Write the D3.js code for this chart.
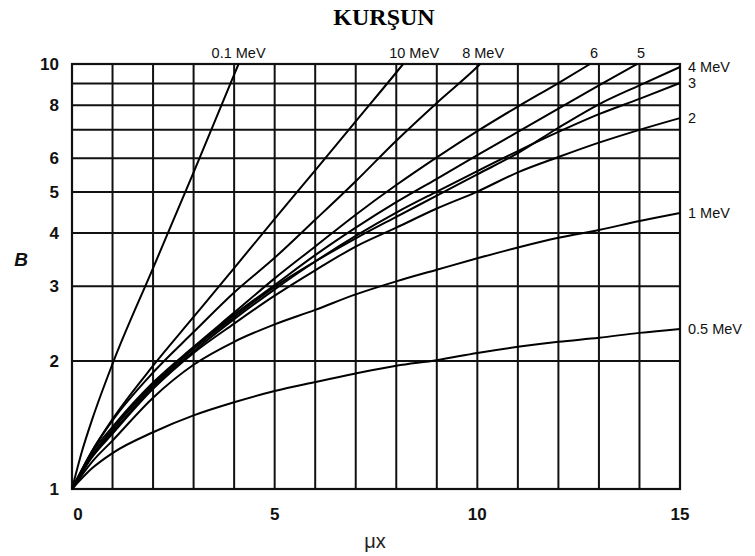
<!DOCTYPE html>
<html><head><meta charset="utf-8">
<script src="https://cdn.jsdelivr.net/npm/d3@7"></script>
<style>body{margin:0;background:#fff}svg{display:block}</style>
</head><body>
<svg id="c" width="755" height="556"></svg>
<script>
// ---- data ----
const chartTitle = "KURŞUN";
const xTicks = [0, 5, 10, 15];
const yTicks = [1, 2, 3, 4, 5, 6, 8, 10];
const xGrid = [1,2,3,4,5,6,7,8,9,10,11,12,13,14];
const yGrid = [2,3,4,5,6,7,8,9];

const xCommon = [0,0.5,1,2,3,4,5,6,7,8,9,10,11,12,13,14,15];
const b05 = [1,1.12,1.215,1.36,1.49,1.6,1.7,1.785,1.87,1.95,2.01,2.09,2.16,2.22,2.27,2.33,2.38];
const b1  = [1,1.16,1.3,1.64,1.96,2.22,2.44,2.64,2.87,3.08,3.28,3.49,3.7,3.9,4.07,4.27,4.46];
const b2  = [1,1.19,1.35,1.72,2.09,2.45,2.85,3.27,3.72,4.12,4.57,5.01,5.56,6.04,6.53,7.0,7.46];
const b3  = [1,1.2,1.36,1.74,2.11,2.51,2.95,3.43,3.94,4.47,5.01,5.6,6.24,6.92,7.62,8.28,9.02];
const b4  = [1,1.2,1.38,1.76,2.14,2.54,2.99,3.43,3.89,4.37,4.9,5.5,6.17,7.08,8.04,8.91,9.84];
const x5  = [0,0.5,1,2,3,4,5,6,7,8,9,10,11,12,13,13.94];
const b5  = [1,1.2,1.38,1.76,2.14,2.57,3.02,3.55,4.12,4.73,5.37,6.1,6.92,7.85,8.91,10];
const x6  = [0,0.5,1,2,3,4,5,6,7,8,9,10,11,12,12.78];
const b6  = [1,1.22,1.4,1.78,2.16,2.6,3.13,3.72,4.42,5.19,6.03,6.95,7.94,9.02,10];
const x8  = [0,0.5,1,2,3,4,5,6,7,8,9,10,10.07];
const b8  = [1,1.23,1.45,1.88,2.34,2.9,3.5,4.3,5.3,6.6,8.1,9.85,10];
const x10 = [0,0.5,1,2,3,4,5,6,7,8,8.17];
const b10 = [1,1.23,1.46,1.95,2.54,3.31,4.32,5.62,7.33,9.55,10];
const x01 = [0,0.25,0.5,1,2,3,4,4.11];
const b01 = [1,1.23,1.46,1.97,3.31,5.56,9.44,10];

// label text and placement kind: "top" = above curve end, "right" = right of curve end
const seriesNames = ["0.1 MeV","0.5 MeV","1 MeV","2","3","4 MeV","5","6","8 MeV","10 MeV"];
const seriesX = [x01, xCommon, xCommon, xCommon, xCommon, xCommon, x5, x6, x8, x10];
const seriesB = [b01, b05, b1, b2, b3, b4, b5, b6, b8, b10];
const labelPos = ["top","right","right","right","right","right","top","top","top","top"];

// ---- drawing ----
const svg = d3.select("#c");
const x = d3.scaleLinear().domain([0, 15]).range([72, 680]);
const y = d3.scaleLog().domain([1, 10]).range([489, 64]);

svg.append("text").attr("x", 384).attr("y", 25).attr("text-anchor", "middle")
  .attr("font-family", "'Liberation Serif','Times New Roman',serif")
  .attr("font-weight", "bold").attr("font-size", 24).text(chartTitle);

const g = svg.append("g");
g.selectAll(".vg").data(xGrid).join("line")
  .attr("x1", d => x(d)).attr("x2", d => x(d)).attr("y1", y(1)).attr("y2", y(10))
  .attr("stroke", "#111").attr("stroke-width", 2);
g.selectAll(".hg").data(yGrid).join("line")
  .attr("y1", d => y(d)).attr("y2", d => y(d)).attr("x1", x(0)).attr("x2", x(15))
  .attr("stroke", "#111").attr("stroke-width", 2);
g.append("rect").attr("x", x(0)).attr("y", y(10)).attr("width", x(15) - x(0)).attr("height", y(1) - y(10))
  .attr("fill", "none").attr("stroke", "#111").attr("stroke-width", 2.2);

const line = d3.line().x(d => x(d[0])).y(d => y(d[1])).curve(d3.curveMonotoneX);
seriesNames.forEach((name, i) => {
  const pts = seriesX[i].map((v, j) => [v, seriesB[i][j]]);
  g.append("path").datum(pts).attr("d", line).attr("fill", "none")
    .attr("stroke", "#000").attr("stroke-width", 2);
  const last = pts[pts.length - 1];
  if (labelPos[i] === "top") {
    const t = svg.append("text").attr("y", 58).attr("font-family", "'Liberation Sans',Arial,sans-serif")
      .attr("font-size", 14.5).attr("fill", "#111").text(name);
    if (name === "10 MeV") t.attr("x", x(last[0]) - 14).attr("text-anchor", "start");
    else if (name === "8 MeV") t.attr("x", x(last[0]) - 18).attr("text-anchor", "start");
    else if (name === "0.1 MeV") t.attr("x", x(last[0])).attr("text-anchor", "middle");
    else t.attr("x", x(last[0]) + 4).attr("text-anchor", "middle");
  } else {
    svg.append("text").attr("x", 688).attr("y", y(last[1])).attr("dy", "0.35em")
      .attr("font-family", "'Liberation Sans',Arial,sans-serif")
      .attr("font-size", 14.5).attr("fill", "#111").text(name);
  }
});

// axis labels
svg.selectAll(".yt").data(yTicks).join("text")
  .attr("x", 59).attr("y", d => y(d)).attr("dy", "0.36em").attr("text-anchor", "end")
  .attr("font-family", "'Liberation Sans',Arial,sans-serif").attr("font-weight", "bold")
  .attr("font-size", 17).attr("fill", "#111").text(d => d);
svg.selectAll(".xt").data(xTicks).join("text")
  .attr("x", d => x(d) + (d === 0 ? 6 : 0)).attr("y", 520).attr("text-anchor", "middle")
  .attr("font-family", "'Liberation Sans',Arial,sans-serif").attr("font-weight", "bold")
  .attr("font-size", 17).attr("fill", "#111").text(d => d);
svg.append("text").attr("x", 375).attr("y", 548).attr("text-anchor", "middle")
  .attr("font-family", "'Liberation Sans',Arial,sans-serif").attr("font-size", 20).attr("fill", "#222").text("μx");
svg.append("text").attr("x", 21).attr("y", 266).attr("text-anchor", "middle")
  .attr("font-family", "'Liberation Sans',Arial,sans-serif").attr("font-weight", "bold").attr("font-style", "italic")
  .attr("font-size", 19).attr("fill", "#111").text("B");
</script>
</body></html>
